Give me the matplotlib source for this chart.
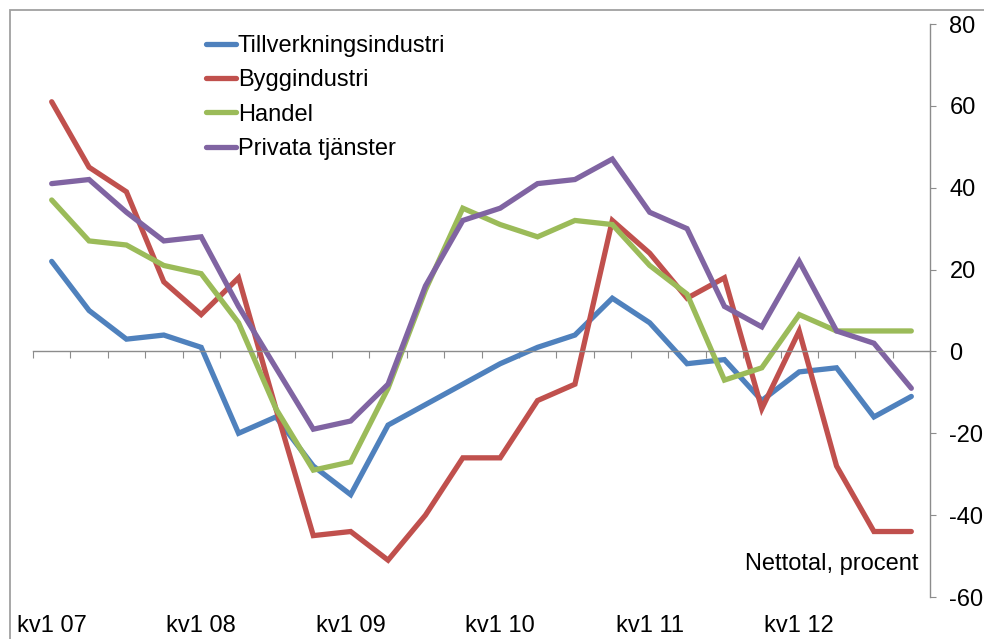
import matplotlib
matplotlib.use("Agg")
import matplotlib.pyplot as plt
from matplotlib.patches import Rectangle
import numpy as np

plt.rcParams['font.family'] = ['Liberation Sans', 'DejaVu Sans']
plt.rcParams['axes.unicode_minus'] = False

quarters = [f"kv{q} {y:02d}" for y in range(7, 13) for q in range(1, 5)]
tillverkning = [22, 10, 3, 4, 1, -20, -16, -28, -35, -18, -13, -8, -3, 1, 4, 13, 7, -3, -2, -12, -5, -4, -16, -11]
bygg = [61, 45, 39, 17, 9, 18, -14, -45, -44, -51, -40, -26, -26, -12, -8, 32, 24, 13, 18, -14, 5, -28, -44, -44]
handel = [37, 27, 26, 21, 19, 7, -14, -29, -27, -9, 15, 35, 31, 28, 32, 31, 21, 14, -7, -4, 9, 5, 5, 5]
privata = [41, 42, 34, 27, 28, 11, -4, -19, -17, -8, 16, 32, 35, 41, 42, 47, 34, 30, 11, 6, 22, 5, 2, -9]
series_names = ["Tillverkningsindustri", "Byggindustri", "Handel", "Privata tjänster"]
colors = ["#4F81BD", "#C0504D", "#9BBB59", "#8064A2"]

W, H = 984, 639
fig = plt.figure(figsize=(W / 100, H / 100), dpi=100)
ax = fig.add_axes([33 / W, 1 - 597 / H, (930 - 33) / W, (597 - 24) / H])

x = np.arange(len(quarters))
for vals, name, c in zip([tillverkning, bygg, handel, privata], series_names, colors):
    ax.plot(x, vals, color=c, lw=3.8, label=name, solid_joinstyle='miter', solid_capstyle='round')

ax.set_xlim(-0.5, len(quarters) - 0.5)
ax.set_ylim(-60, 80)

gray = "#8C8C8C"
for s in ['left', 'top']:
    ax.spines[s].set_visible(False)
ax.spines['right'].set_color(gray)
ax.spines['bottom'].set_color(gray)
ax.spines['bottom'].set_position(('data', 0))
ax.spines['right'].set_linewidth(1.0)
ax.spines['bottom'].set_linewidth(1.0)

ax.yaxis.tick_right()
ax.set_yticks(np.arange(-60, 81, 20))
ax.tick_params(axis='y', direction='out', length=4, color=gray, labelsize=17, pad=10)
ax.set_xticks(np.arange(-0.5, len(quarters), 1))
ax.set_xticklabels([])
ax.tick_params(axis='x', direction='out', length=5, color=gray)

sec = ax.secondary_xaxis(0)
sec.set_xticks(x[::4])
sec.set_xticklabels(quarters[::4])
sec.tick_params(axis='x', length=0, labelsize=17, pad=13)
sec.spines['bottom'].set_visible(False)

ax.text(0.987, 0.057, "Nettotal, procent", transform=ax.transAxes, ha='right', va='center', fontsize=17)

leg = ax.legend(loc='upper left', bbox_to_anchor=(206 / W, 1 - 35 / H), bbox_transform=fig.transFigure,
                frameon=False, fontsize=17, handlelength=1.25, handletextpad=0.1,
                labelspacing=0.52, borderpad=0, borderaxespad=0)

fig.add_artist(Rectangle((10 / W, -0.1), 1.2, 1 - 10 / H + 0.1, transform=fig.transFigure,
                         fill=False, ec="#A0A0A0", lw=1.3))

fig.savefig("out.png", dpi=100)
